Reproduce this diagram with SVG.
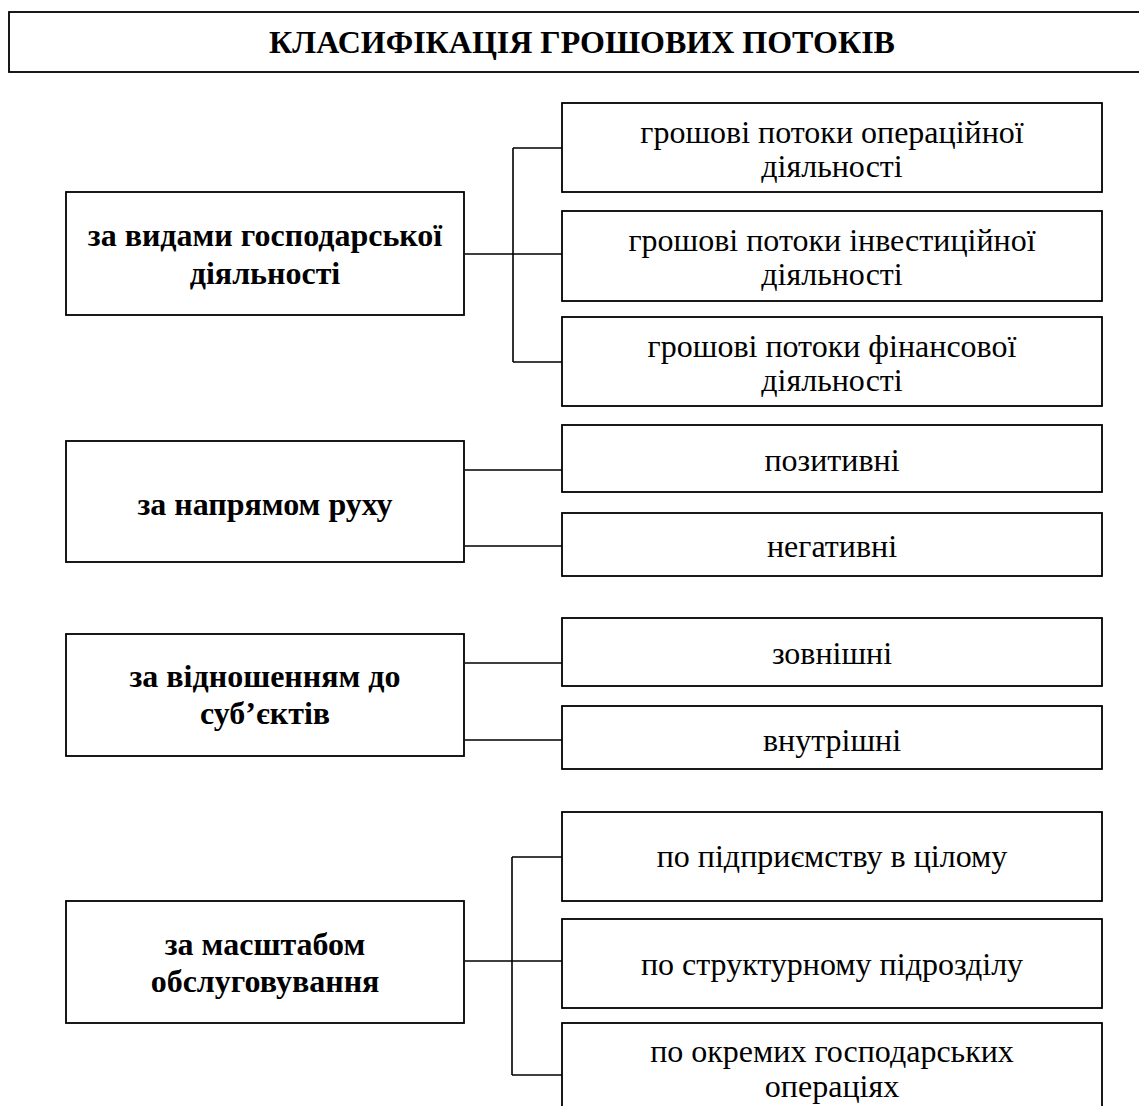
<svg xmlns="http://www.w3.org/2000/svg" width="1139" height="1106" viewBox="0 0 1139 1106">
<style>
.box{fill:#fff;stroke:#000;stroke-width:1.8}
.t{font-family:"Liberation Serif","Times New Roman",serif;font-size:32px;text-anchor:middle;fill:#000}
.b{font-family:"Liberation Serif","Times New Roman",serif;font-size:32px;font-weight:bold;text-anchor:middle;fill:#000}
.h{font-family:"Liberation Serif","Times New Roman",serif;font-size:32px;font-weight:bold;text-anchor:middle;fill:#000}
.c{fill:none;stroke:#000;stroke-width:1.6}
</style>
<rect width="1139" height="1106" fill="#fff"/>
<g id="title"><rect class="box" x="9" y="12" width="1140" height="60"/><text class="h" x="582" y="53">КЛАСИФІКАЦІЯ ГРОШОВИХ ПОТОКІВ</text></g>
<g id="connectors">
<path class="c" d="M465 254H513M513 148V362M513 148H562M513 254H562M513 362H562"/>
<path class="c" d="M465 470H562M465 546H562"/>
<path class="c" d="M465 663H562M465 740H562"/>
<path class="c" d="M465 961H512M512 857V1075M512 857H562M512 961H562M512 1075H562"/>
</g>
<g id="l1"><rect class="box" x="66" y="192" width="398" height="123"/><text class="b" x="265" y="246">за видами господарської</text><text class="b" x="265" y="284">діяльності</text></g>
<g id="l2"><rect class="box" x="66" y="441" width="398" height="121"/><text class="b" x="265" y="515">за напрямом руху</text></g>
<g id="l3"><rect class="box" x="66" y="634" width="398" height="122"/><text class="b" x="265" y="687">за відношенням до</text><text class="b" x="265" y="724">суб’єктів</text></g>
<g id="l4"><rect class="box" x="66" y="901" width="398" height="122"/><text class="b" x="265" y="955">за масштабом</text><text class="b" x="265" y="992">обслуговування</text></g>
<g id="r1"><rect class="box" x="562" y="103" width="540" height="89"/><text class="t" x="832" y="143">грошові потоки операційної</text><text class="t" x="832" y="177">діяльності</text></g>
<g id="r2"><rect class="box" x="562" y="211" width="540" height="90"/><text class="t" x="832" y="251">грошові потоки інвестиційної</text><text class="t" x="832" y="285">діяльності</text></g>
<g id="r3"><rect class="box" x="562" y="317" width="540" height="89"/><text class="t" x="832" y="357">грошові потоки фінансової</text><text class="t" x="832" y="391">діяльності</text></g>
<g id="r4"><rect class="box" x="562" y="425" width="540" height="67"/><text class="t" x="832" y="471">позитивні</text></g>
<g id="r5"><rect class="box" x="562" y="513" width="540" height="63"/><text class="t" x="832" y="557">негативні</text></g>
<g id="r6"><rect class="box" x="562" y="618" width="540" height="68"/><text class="t" x="832" y="664">зовнішні</text></g>
<g id="r7"><rect class="box" x="562" y="706" width="540" height="63"/><text class="t" x="832" y="751">внутрішні</text></g>
<g id="r8"><rect class="box" x="562" y="812" width="540" height="89"/><text class="t" x="832" y="867">по підприємству в цілому</text></g>
<g id="r9"><rect class="box" x="562" y="919" width="540" height="89"/><text class="t" x="832" y="975">по структурному підрозділу</text></g>
<g id="r10"><rect class="box" x="562" y="1023" width="540" height="100"/><text class="t" x="832" y="1062">по окремих господарських</text><text class="t" x="832" y="1097">операціях</text></g>
</svg>
